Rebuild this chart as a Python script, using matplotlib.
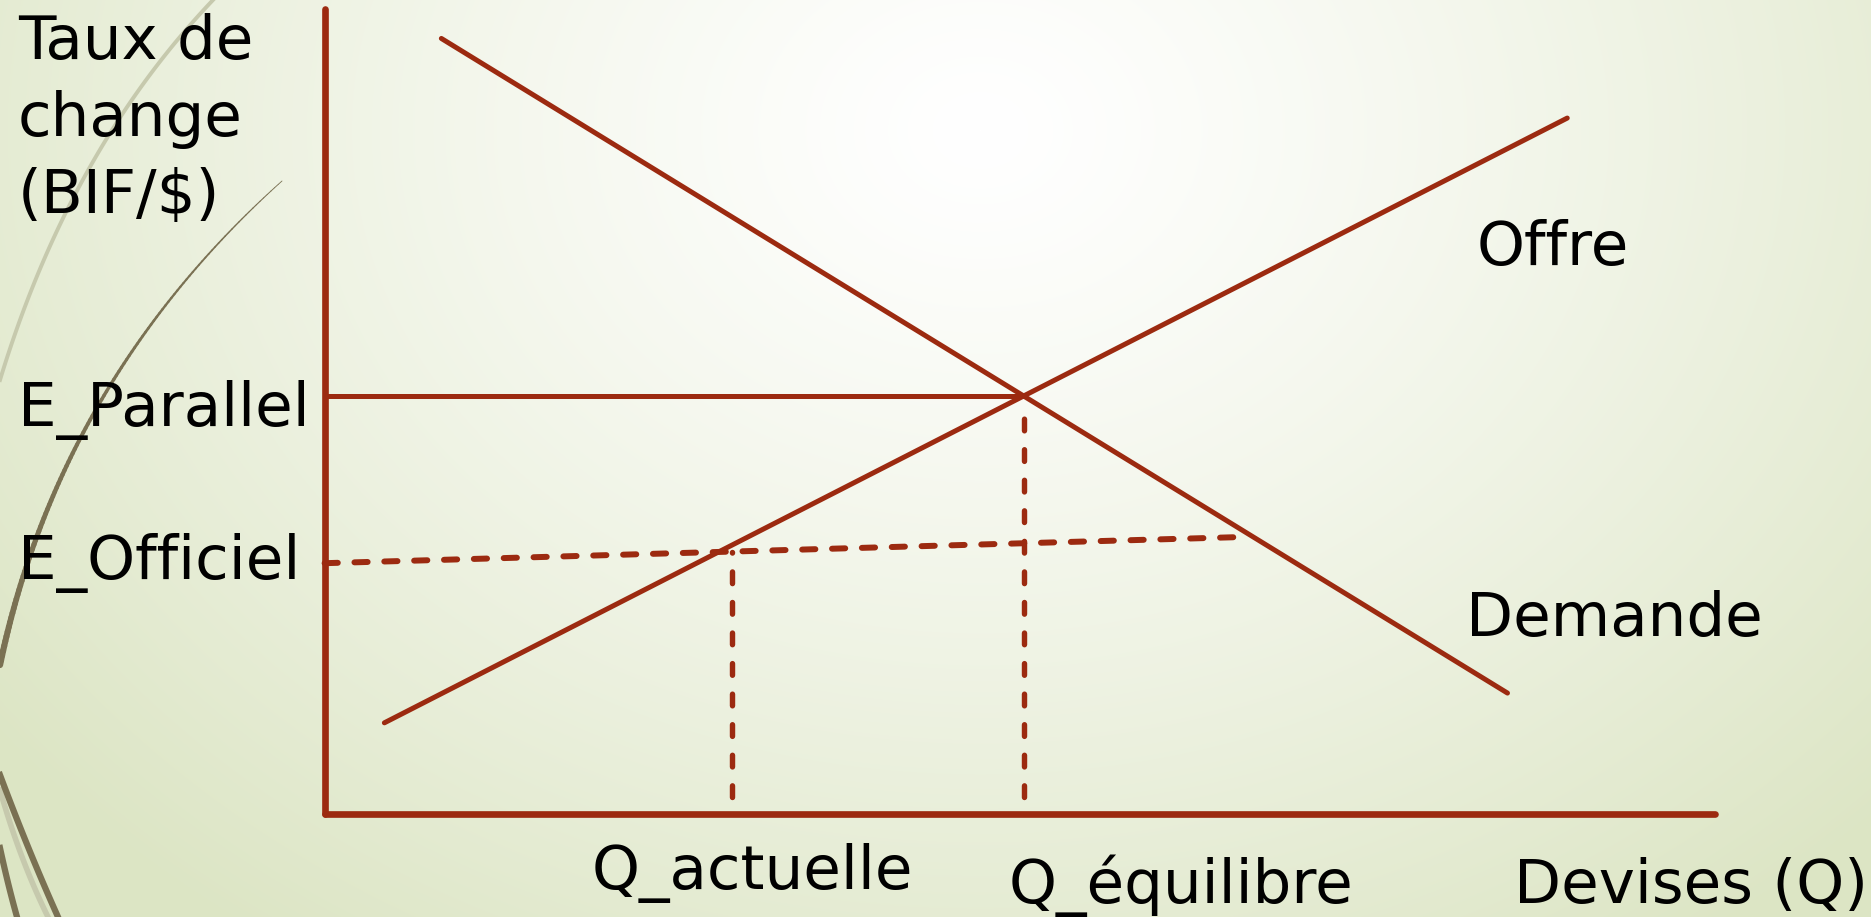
import numpy as np
import matplotlib
matplotlib.use("Agg")
import matplotlib.pyplot as plt
from matplotlib.collections import LineCollection

plt.rcParams['font.family'] = ['DejaVu Sans']

# ---------------- data (abstract units: Q on x, exchange rate on y) -------------
demand_q = [0.84, 8.51]
demand_e = [9.64, 1.50]
supply_q = [0.43, 8.94]
supply_e = [1.13, 8.65]
q_equilibre = 5.03
e_parallel = 5.20
official_q = [0.0, 6.59]
official_e = [3.115, 3.44]
q_actuelle = 2.93
q_act_top = 3.25
q_eq_top = 5.14
dash_bottom = 0.21
axis_max_q = 10.0
axis_max_e = 10.0

ylabel_lines = ["Taux de", "change", "(BIF/$)"]
tick_e_labels = ["E_Parallel", "E_Officiel"]
tick_q_labels = ["Q_actuelle", "Q_équilibre"]
xlabel = "Devises (Q)"
curve_labels = ["Offre", "Demande"]

RED = "#9c2a10"
W, H = 1871, 917
fig = plt.figure(figsize=(W / 100, H / 100), dpi=100)

# ---------------- background with gradient + decorative wisps ----------------
bg = fig.add_axes([0, 0, 1, 1], zorder=-5)
yy, xx = np.mgrid[0:H, 0:W]
t = np.sqrt(((xx - 980) / 1250.0) ** 2 + ((yy - 130) / 1000.0) ** 2)
t = np.clip(t, 0, 1) ** 1.25
c0 = np.array([1.0, 1.0, 1.0])
c1 = np.array([0xdc, 0xe5, 0xc4]) / 255.0
img = c0[None, None, :] * (1 - t[..., None]) + c1[None, None, :] * t[..., None]
bg.imshow(img, extent=[0, W, H, 0], aspect='auto', interpolation='bilinear')
bg.set_xlim(0, W)
bg.set_ylim(H, 0)
bg.axis('off')


def bez(p0, p1, p2, n=80):
    s = np.linspace(0, 1, n)[:, None]
    p0, p1, p2 = map(np.array, (p0, p1, p2))
    return (1 - s) ** 2 * p0 + 2 * (1 - s) * s * p1 + s ** 2 * p2


LIGHT = "#c6c9ad"
DARK = "#7a7153"
pts = bez((213, 0), (70, 150), (0, 380))
bg.plot(pts[:, 0], pts[:, 1], color=LIGHT, lw=2.8)
pts = bez((282, 181), (60, 380), (0, 665), n=120)
segs = np.stack([pts[:-1], pts[1:]], axis=1)
lc = LineCollection(segs, colors=DARK, linewidths=np.linspace(0.6, 4.5, len(segs)), capstyle='round')
bg.add_collection(lc)
pts = bez((0, 790), (20, 860), (48, 917))
bg.plot(pts[:, 0], pts[:, 1], color=LIGHT, lw=4)
pts = bez((0, 775), (28, 850), (58, 917))
bg.plot(pts[:, 0], pts[:, 1], color=DARK, lw=4.5)
pts = bez((0, 848), (8, 885), (17, 917))
bg.plot(pts[:, 0], pts[:, 1], color=DARK, lw=4.5)

# ---------------- main axes ----------------
x0, y0, x1, y1 = 324.6, 813.7, 1714.6, 9.5
ax = fig.add_axes([x0 / W, (H - y0) / H, (x1 - x0) / W, (y0 - y1) / H])
ax.set_xlim(0, axis_max_q)
ax.set_ylim(0, axis_max_e)
ax.patch.set_alpha(0)
for s in ax.spines.values():
    s.set_visible(False)
ax.set_xticks([])
ax.set_yticks([])

LW = 3.6
# axes lines
ax.plot([0, 0], [0, axis_max_e], color=RED, lw=4.8, solid_capstyle='round', clip_on=False)
ax.plot([0, axis_max_q], [0, 0], color=RED, lw=4.8, solid_capstyle='round', clip_on=False)

# demand & supply
ax.plot(demand_q, demand_e, color=RED, lw=LW, solid_capstyle='round', clip_on=False)
ax.plot(supply_q, supply_e, color=RED, lw=LW, solid_capstyle='round', clip_on=False)

# parallel rate line
ax.plot([0, q_equilibre], [e_parallel, e_parallel], color=RED, lw=LW, clip_on=False)

# official rate dashed
lwd = 4.3
ax.plot(official_q, official_e, color=RED, lw=lwd, dash_capstyle='round',
        linestyle=(0, (9.5 / lwd, 12.0 / lwd)), clip_on=False)

lwv = 3.9
ax.plot([q_actuelle, q_actuelle], [dash_bottom, q_act_top], color=RED, lw=lwv,
        dash_capstyle='round', linestyle=(0, (8.4 / lwv, 13.6 / lwv)), clip_on=False)
ax.plot([q_equilibre, q_equilibre], [dash_bottom, q_eq_top], color=RED, lw=lwv,
        dash_capstyle='round', linestyle=(0, (8.4 / lwv, 13.6 / lwv)), clip_on=False)

# ---------------- texts ----------------
FS = 44
left_x = -2.206
for txt, yb in zip(ylabel_lines, [9.39, 8.43, 7.47]):
    ax.text(left_x, yb, txt, fontsize=FS, ha='left', va='baseline', clip_on=False)

ax.text(left_x, 4.82, tick_e_labels[0], fontsize=FS, ha='left', va='baseline')
ax.text(left_x, 2.92, tick_e_labels[1], fontsize=FS, ha='left', va='baseline')

ax.text(3.08, -0.94, tick_q_labels[0], fontsize=FS, ha='center', va='baseline')
ax.text(6.16, -1.11, tick_q_labels[1], fontsize=FS, ha='center', va='baseline')
ax.text(11.1, -1.11, xlabel, fontsize=FS, ha='right', va='baseline')

ax.text(8.29, 6.82, curve_labels[0], fontsize=FS, ha='left', va='baseline')
ax.text(8.21, 2.21, curve_labels[1], fontsize=FS, ha='left', va='baseline')

fig.savefig("out.png", dpi=100)
